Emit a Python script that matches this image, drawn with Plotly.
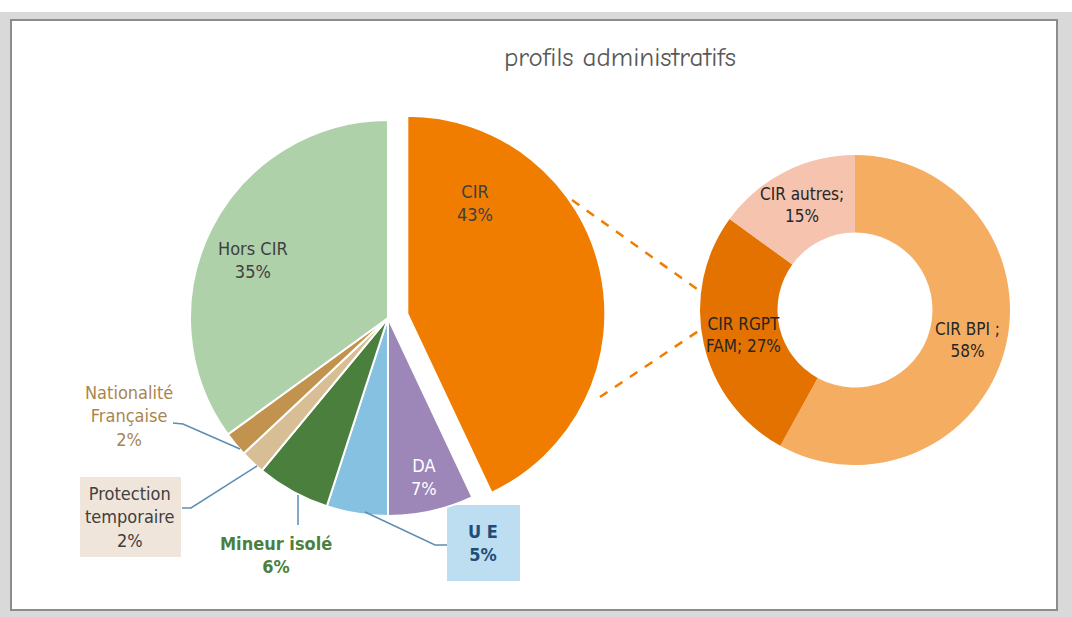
import plotly.graph_objects as go

W, H = 1072, 617

title_text = "profils administratifs"

main_labels = ["CIR", "DA", "U E", "Mineur isolé", "Protection temporaire",
               "Nationalité Française", "Hors CIR"]
main_values = [43, 7, 5, 6, 2, 2, 35]
main_colors = ["#F07D00", "#9D86B8", "#86C1E1", "#4A7F3E", "#D8BE95",
               "#C2934F", "#AED1A9"]
main_pull = [0.1, 0, 0, 0, 0, 0, 0]

sub_labels = ["CIR BPI", "CIR RGPT FAM", "CIR autres"]
sub_values = [58, 27, 15]
sub_colors = ["#F5AD62", "#E37200", "#F5C3AE"]


def px(x, y):
    return x / W, 1 - y / H


fig = go.Figure()

# main pie: center (388,318), radius 198, pull 0.1 -> box 2*198*1.1
r_main, cx, cy = 198, 388, 318
half = r_main * 1.1
x0, y0 = px(cx - half, cy + half)
x1, y1 = px(cx + half, cy - half)
fig.add_trace(go.Pie(
    labels=main_labels, values=main_values, sort=False, direction="clockwise",
    rotation=0, pull=main_pull, textinfo="none", hoverinfo="skip",
    marker=dict(colors=main_colors, line=dict(color="white", width=2)),
    domain=dict(x=[x0, x1], y=[y0, y1]), showlegend=False,
))

# donut: center (855,310), radius 155
r_sub, dx, dy = 155, 855, 310
sx0, sy0 = px(dx - r_sub, dy + r_sub)
sx1, sy1 = px(dx + r_sub, dy - r_sub)
fig.add_trace(go.Pie(
    labels=sub_labels, values=sub_values, sort=False, direction="clockwise",
    rotation=0, hole=0.5, textinfo="none", hoverinfo="skip",
    marker=dict(colors=sub_colors, line=dict(color="white", width=0)),
    domain=dict(x=[sx0, sx1], y=[sy0, sy1]), showlegend=False,
))

shapes = []


def line_path(points, color, width=2, dash="solid"):
    coords = [px(x, y) for x, y in points]
    path = "M " + " L ".join(f"{a:.5f},{b:.5f}" for a, b in coords)
    return dict(type="path", xref="paper", yref="paper", path=path,
                line=dict(color=color, width=width, dash=dash))


def rect(xa, ya, xb, yb, fill, line_color=None, lw=0):
    a = px(xa, ya)
    b = px(xb, yb)
    return dict(type="rect", xref="paper", yref="paper", x0=a[0], y0=b[1],
                x1=b[0], y1=a[1], fillcolor=fill,
                line=dict(color=line_color or fill, width=lw), layer="below")


# outside Excel area
shapes.append(rect(0, 0, 1072, 617, "#D9D9D9"))
shapes.append(rect(0, 0, 1072, 12, "#FFFFFF"))
shapes.append(rect(11, 20, 1057, 610, "#FFFFFF", "#8C8C8C", 2))

# label boxes
shapes.append(rect(447, 505, 520, 581, "#BDDDF1"))
shapes.append(rect(80, 477, 181, 557, "#EFE5DA"))

# leader lines
lead = "#5C8DB2"
shapes.append(line_path([(173, 423), (183, 424), (240, 449)], lead, 1.5))
shapes.append(line_path([(182, 508), (191, 508), (257, 466)], lead, 1.5))
shapes.append(line_path([(298, 495), (298, 525)], lead, 1.5))
shapes.append(line_path([(365, 512), (435, 545), (447, 545)], lead, 1.5))

# dashed connectors
shapes.append(line_path([(572, 200), (697, 289)], "#F07D00", 2.5, "dash"))
shapes.append(line_path([(600, 397), (700, 330)], "#F07D00", 2.5, "dash"))

fig.update_layout(shapes=shapes)

narrow = "Liberation Sans Narrow, DejaVu Sans Condensed, Arial Narrow, sans-serif"


def ann(x, y, text, color, size=16, bold=False, family=narrow):
    px_, py_ = px(x, y)
    t = f"<b>{text}</b>" if bold else text
    fig.add_annotation(x=px_, y=py_, xref="paper", yref="paper", text=t,
                       showarrow=False, xanchor="center", yanchor="middle",
                       font=dict(color=color, size=size, family=family),
                       align="center")


ann(620, 57, title_text, "#595959", 27,
    family="Comic Neue, Comic Sans MS, Lato, sans-serif")

ann(475, 203, f"{main_labels[0]}<br>{main_values[0]}%", "#404040", 18)
ann(424, 477, f"{main_labels[1]}<br>{main_values[1]}%", "#FFFFFF", 18)
ann(483, 543, f"{main_labels[2]}<br>{main_values[2]}%", "#1F4E79", 18, True)
ann(276, 555, f"{main_labels[3]}<br>{main_values[3]}%", "#4A7F3E", 18, True)
ann(130, 517, "Protection<br>temporaire<br>" + f"{main_values[4]}%", "#404040", 18)
ann(129, 416, "Nationalité<br>Française<br>" + f"{main_values[5]}%", "#A98550", 18)
ann(253, 260, f"{main_labels[6]}<br>{main_values[6]}%", "#404040", 18)

ann(802, 205, f"{sub_labels[2]};<br>{sub_values[2]}%", "#262626", 17)
ann(743, 335, f"CIR RGPT<br>FAM; {sub_values[1]}%", "#262626", 17)
ann(967, 340, f"{sub_labels[0]} ;<br>{sub_values[0]}%", "#262626", 17)

fig.update_layout(
    width=W, height=H, margin=dict(l=0, r=0, t=0, b=0),
    paper_bgcolor="white", plot_bgcolor="white",
)

fig.write_html("out.html", config={"displayModeBar": False},
               post_script="document.body.style.margin='0';document.body.style.overflow='hidden';")
